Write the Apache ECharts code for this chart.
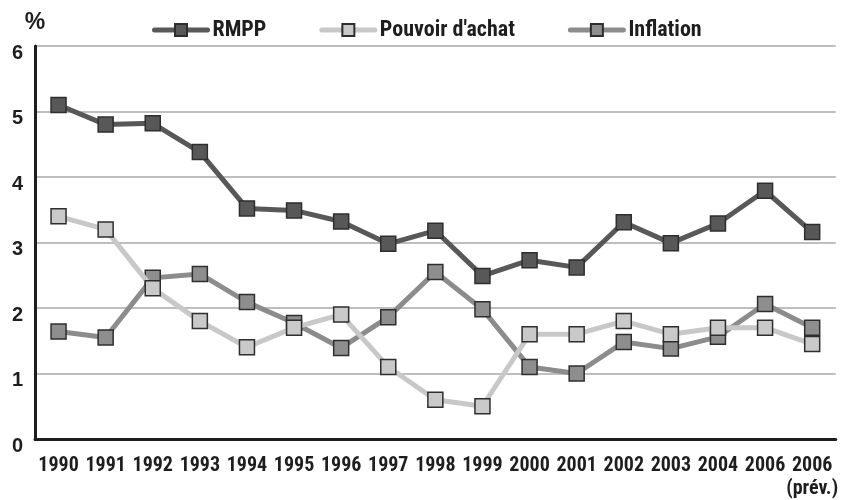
<!DOCTYPE html>
<html>
<head>
<meta charset="utf-8">
<script src="https://cdn.jsdelivr.net/npm/echarts@6/dist/echarts.min.js"></script>
<style>
  html, body { margin: 0; padding: 0; background: #fff; }
  #chart { width: 841px; height: 500px; }
</style>
</head>
<body>
<div id="chart"></div>
<script>
const years = ['1990', '1991', '1992', '1993', '1994', '1995', '1996', '1997', '1998',
  '1999', '2000', '2001', '2002', '2003', '2004', '2006', '2006\n(prév.)'];
const rmpp = [5.1, 4.8, 4.82, 4.38, 3.52, 3.49, 3.32, 2.98, 3.18, 2.49, 2.73, 2.62, 3.31, 2.99, 3.29, 3.79, 3.16];
const pouvoirAchat = [3.4, 3.2, 2.3, 1.8, 1.4, 1.7, 1.9, 1.1, 0.6, 0.5, 1.6, 1.6, 1.8, 1.6, 1.7, 1.7, 1.45];
const inflation = [1.64, 1.55, 2.46, 2.52, 2.09, 1.77, 1.39, 1.86, 2.55, 1.98, 1.1, 1.0, 1.48, 1.38, 1.56, 2.06, 1.7];
const yTicks = [0, 1, 2, 3, 4, 5, 6];

const narrow = '"Roboto Condensed", "Liberation Sans Narrow", Roboto, sans-serif';
const wide = '"Liberation Sans", Arial, sans-serif';
const ink = '#1e1e1e';
const markerBorder = '#2e2e2e';

function lineSeries(name, data, lineColor, fillColor, z) {
  return {
    name: name,
    type: 'line',
    data: data,
    z: z,
    symbol: 'rect',
    symbolSize: 15,
    lineStyle: { color: lineColor, width: 5 },
    itemStyle: { color: fillColor, borderColor: markerBorder, borderWidth: 1.5 },
    emphasis: { disabled: true },
    animation: false
  };
}

const chart = echarts.init(document.getElementById('chart'), null, { renderer: 'canvas' });
chart.setOption({
  backgroundColor: '#ffffff',
  textStyle: { fontFamily: narrow },
  grid: { left: 35, right: 1, top: 46, bottom: 61 },
  legend: {
    data: ['RMPP', "Pouvoir d'achat", 'Inflation'],
    left: 147,
    top: 14,
    itemWidth: 53,
    itemHeight: 15,
    itemGap: 53,
    lineStyle: { width: 5, cap: 'round' },
    textStyle: { fontFamily: narrow, fontWeight: 'bold', fontSize: 22, color: ink }
  },
  xAxis: {
    type: 'category',
    data: years,
    boundaryGap: true,
    axisLine: { lineStyle: { color: ink, width: 3 } },
    axisTick: { show: false },
    axisLabel: {
      interval: 0,
      margin: 15,
      fontFamily: narrow,
      fontWeight: 'bold',
      fontSize: 20,
      lineHeight: 23,
      color: ink
    },
    splitLine: { show: false }
  },
  yAxis: {
    type: 'value',
    min: yTicks[0],
    max: yTicks[yTicks.length - 1],
    interval: 1,
    name: '%',
    nameGap: 12,
    nameTextStyle: { fontFamily: wide, fontWeight: 'bold', fontSize: 23, color: ink },
    axisLine: { show: true, lineStyle: { color: ink, width: 3 } },
    axisTick: { show: false },
    axisLabel: {
      margin: 12,
      fontFamily: wide,
      fontWeight: 'bold',
      fontSize: 20,
      color: ink,
      verticalAlign: 'top',
      lineHeight: 14
    },
    splitLine: { show: true, lineStyle: { color: '#a8a8a8', width: 1.5 } }
  },
  series: [
    lineSeries('RMPP', rmpp, '#585858', '#585858', 4),
    lineSeries('Inflation', inflation, '#8c8c8c', '#8e8e8e', 2),
    lineSeries("Pouvoir d'achat", pouvoirAchat, '#c8c8c8', '#c9c9c9', 3)
  ]
});
</script>
</body>
</html>
